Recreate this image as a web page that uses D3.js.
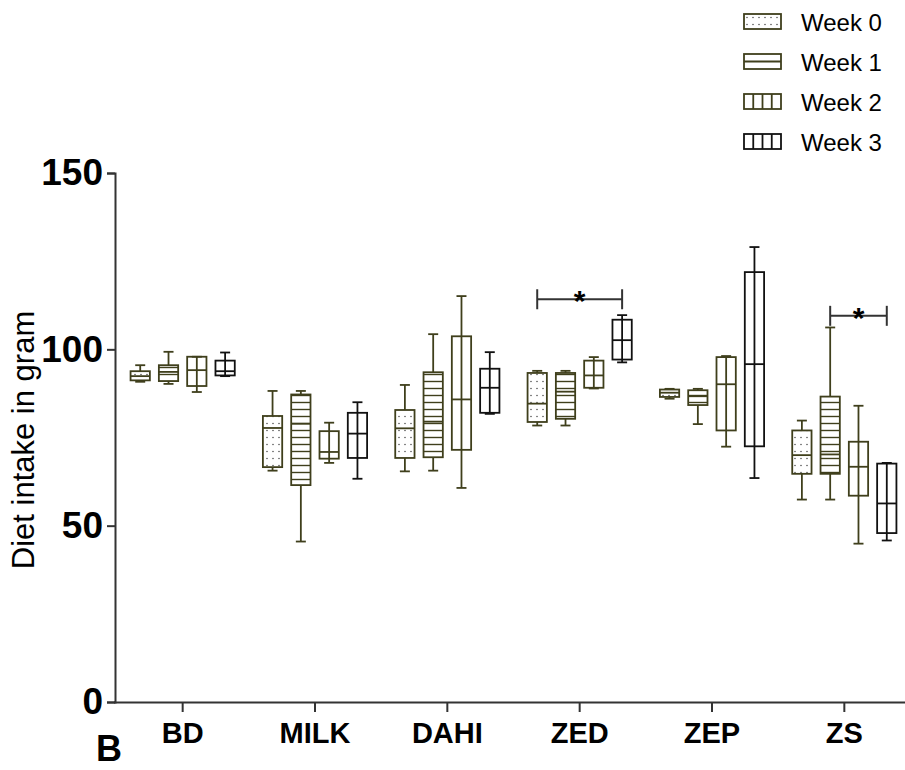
<!DOCTYPE html>
<html>
<head>
<meta charset="utf-8">
<script src="https://cdn.jsdelivr.net/npm/d3@7"></script>
<style>
  body { margin: 0; background: #fff; }
  svg { display: block; font-family: "Liberation Sans", Arial, sans-serif; }
</style>
</head>
<body>
<div id="chart"></div>
<script>
// data: [min, q1, median, q3, max] per group
var categories = ["BD", "MILK", "DAHI", "ZED", "ZEP", "ZS"];
var weeks = ["Week 0", "Week 1", "Week 2", "Week 3"];
var week0 = [[90.8, 91.2, 92.4, 93.8, 95.5], [65.6, 66.6, 77.7, 81.1, 88.2], [65.4, 69.2, 77.6, 82.8, 89.9],
             [78.4, 79.4, 84.6, 93.3, 93.9], [86.0, 86.5, 87.7, 88.6, 88.8], [57.4, 64.7, 70.0, 77.0, 79.8]];
var week1 = [[90.2, 91.0, 93.6, 95.5, 99.3], [45.5, 61.5, 78.9, 87.2, 88.2], [65.6, 69.4, 79.5, 93.5, 104.3],
             [78.4, 80.3, 88.0, 93.3, 93.9], [78.8, 84.2, 86.7, 88.4, 88.8], [57.4, 64.7, 70.2, 86.6, 106.2]];
var week2 = [[87.9, 89.6, 94.1, 97.9, 97.9], [67.8, 69.0, 70.9, 76.8, 79.2], [60.7, 71.5, 85.8, 103.7, 115.1],
             [88.9, 89.1, 92.6, 96.8, 97.8], [72.4, 77.0, 90.1, 97.8, 98.1], [44.9, 58.5, 66.7, 73.8, 84.0]];
var week3 = [[92.4, 92.6, 93.8, 96.8, 99.1], [63.3, 69.2, 76.1, 82.0, 85.0], [81.7, 82.0, 89.1, 94.5, 99.2],
             [96.3, 97.1, 102.6, 108.4, 109.7], [63.5, 72.5, 95.8, 121.9, 129.0], [45.8, 47.9, 56.3, 67.6, 67.8]];
var yTicks = [0, 50, 100, 150];
var sigBars = [["ZED", "Week 0", "Week 3", 114.2], ["ZS", "Week 1", "Week 3", 109.5]];

var series = [week0, week1, week2, week3];
var olive = "#3f3f1c";
var strokes = [olive, olive, olive, "#111"];
var fills = ["url(#dots)", "url(#hlines)", "none", "none"];

var width = 905, height = 770;
var svg = d3.select("#chart").append("svg").attr("width", width).attr("height", height);

var defs = svg.append("defs");
var dots = defs.append("pattern").attr("id", "dots").attr("patternUnits", "userSpaceOnUse")
  .attr("width", 6).attr("height", 7);
dots.append("circle").attr("cx", 3).attr("cy", 3.5).attr("r", 0.8).attr("fill", "#555");
var hl = defs.append("pattern").attr("id", "hlines").attr("patternUnits", "userSpaceOnUse")
  .attr("width", 10).attr("height", 7);
hl.append("line").attr("x1", 0).attr("x2", 10).attr("y1", 3.5).attr("y2", 3.5)
  .attr("stroke", olive).attr("stroke-width", 1.4);

var y = d3.scaleLinear().domain([0, 150]).range([702, 173]);
var x0 = d3.scaleBand().domain(categories).range([116.5, 910.5]);
var x1 = d3.scaleBand().domain(weeks).range([-56.6, 56.6]).paddingInner(0.318).paddingOuter(0.159);

// axes
var yAxis = svg.append("g").attr("transform", "translate(115,0)")
  .call(d3.axisLeft(y).tickValues(yTicks).tickSize(8).tickPadding(4));
yAxis.select(".domain").attr("stroke", "#333").attr("stroke-width", 2);
yAxis.selectAll(".tick line").attr("stroke", "#333").attr("stroke-width", 2);
yAxis.selectAll(".tick text").attr("font-size", 37).attr("font-weight", "bold")
  .attr("fill", "#000").attr("font-family", "Liberation Sans, Arial, sans-serif");

var xAxis = svg.append("g").attr("transform", "translate(0,702)")
  .call(d3.axisBottom(x0).tickSize(10).tickSizeOuter(0).tickPadding(10));
xAxis.select(".domain").attr("stroke", "#333").attr("stroke-width", 2).attr("d", "M114,0.5H905");
xAxis.selectAll(".tick line").attr("stroke", "#333").attr("stroke-width", 2);
xAxis.selectAll(".tick text").attr("font-size", 29).attr("font-weight", "bold")
  .attr("fill", "#000").attr("font-family", "Liberation Sans, Arial, sans-serif");

svg.append("text").attr("transform", "translate(34,440) rotate(-90)")
  .attr("text-anchor", "middle").attr("font-size", 31).attr("fill", "#000")
  .text("Diet intake in gram");

svg.append("text").attr("x", 96).attr("y", 761).attr("font-size", 36)
  .attr("font-weight", "bold").attr("fill", "#000").text("B");

// boxes
var bw = x1.bandwidth();
series.forEach(function(data, wi) {
  var g = svg.append("g");
  data.forEach(function(d, ci) {
    var cx = x0(categories[ci]) + x0.bandwidth() / 2 + x1(weeks[wi]) + bw / 2;
    var col = strokes[wi];
    var bg = g.append("g").attr("stroke", col).attr("stroke-width", 1.8).attr("fill", "none");
    if (wi >= 2) {
      bg.append("line").attr("x1", cx).attr("x2", cx).attr("y1", y(d[0])).attr("y2", y(d[4]));
    } else {
      bg.append("line").attr("x1", cx).attr("x2", cx).attr("y1", y(d[0])).attr("y2", y(d[1]));
      bg.append("line").attr("x1", cx).attr("x2", cx).attr("y1", y(d[3])).attr("y2", y(d[4]));
      bg.append("rect").attr("x", cx - bw / 2).attr("y", y(d[3])).attr("width", bw)
        .attr("height", y(d[1]) - y(d[3])).attr("fill", fills[wi]).attr("stroke", "none");
    }
    bg.append("rect").attr("x", cx - bw / 2).attr("y", y(d[3])).attr("width", bw)
      .attr("height", y(d[1]) - y(d[3]));
    bg.append("line").attr("x1", cx - bw / 2).attr("x2", cx + bw / 2).attr("y1", y(d[2])).attr("y2", y(d[2]));
    [d[0], d[4]].forEach(function(v) {
      bg.append("line").attr("x1", cx - 5).attr("x2", cx + 5).attr("y1", y(v)).attr("y2", y(v));
    });
  });
});

// significance bars
sigBars.forEach(function(s) {
  var base = x0(s[0]) + x0.bandwidth() / 2 + bw / 2;
  var xa = base + x1(s[1]), xb = base + x1(s[2]), yy = y(s[3]);
  var g = svg.append("g").attr("stroke", "#333").attr("stroke-width", 2);
  g.append("line").attr("x1", xa).attr("x2", xb).attr("y1", yy).attr("y2", yy);
  g.append("line").attr("x1", xa).attr("x2", xa).attr("y1", yy - 10).attr("y2", yy + 10);
  g.append("line").attr("x1", xb).attr("x2", xb).attr("y1", yy - 10).attr("y2", yy + 10);
  svg.append("text").attr("x", (xa + xb) / 2).attr("y", yy + 12).attr("text-anchor", "middle")
    .attr("font-size", 30).attr("font-weight", "bold").attr("fill", "#000").text("*");
});

// legend
var leg = svg.append("g").attr("transform", "translate(744,0)");
weeks.forEach(function(w, i) {
  var cy = 21.5 + i * 40;
  var g = leg.append("g").attr("stroke", strokes[i]).attr("stroke-width", 1.8).attr("fill", "none");
  if (i === 0) {
    g.append("rect").attr("x", 0).attr("y", cy - 7.5).attr("width", 37).attr("height", 15)
      .attr("fill", "url(#dots)").attr("stroke", "none");
  }
  g.append("rect").attr("x", 0).attr("y", cy - 7.5).attr("width", 37).attr("height", 15);
  if (i === 1) {
    g.append("line").attr("x1", 0).attr("x2", 37).attr("y1", cy).attr("y2", cy);
  }
  if (i >= 2) {
    [9.25, 18.5, 27.75].forEach(function(dx) {
      g.append("line").attr("x1", dx).attr("x2", dx).attr("y1", cy - 7.5).attr("y2", cy + 7.5);
    });
  }
  leg.append("text").attr("x", 57).attr("y", cy + 9).attr("font-size", 24).attr("fill", "#000").text(w);
});
</script>
</body>
</html>
